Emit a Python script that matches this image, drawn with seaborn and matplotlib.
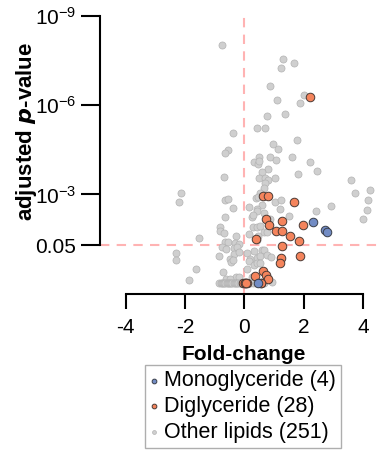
import numpy as np
import pandas as pd
import matplotlib
matplotlib.use("Agg")
import matplotlib.pyplot as plt
import seaborn as sns

# Fold-change and -log10(adjusted p) per lipid class
mg_fc = [2.32, 2.71, 2.78, 0.46]
mg_nlp = [2.09, 1.82, 1.73, 0.02]

dg_fc = [2.22, 0.62, 0.79, 1.68, 0.73, 1.28, 0.84, 1.99, 1.08, 1.28,
         1.54, 0.39, 1.83, 1.28, 1.25, 1.88, 1.19, 0.62, 0.73, 0.36,
         0.79, 0.57, -0.05, 0.01, 0.10, 0.04, 0.07, 0.55]
dg_nlp = [6.27, 2.96, 2.96, 2.75, 2.19, 2.12, 1.97, 1.97, 1.76, 1.77,
          1.62, 1.50, 1.44, 1.26, 0.88, 0.95, 0.69, 0.43, 0.31, 0.26,
          0.16, 0.02, 0.02, 0.02, 0.02, 0.02, 0.02, 0.02]

other_fc = [-0.75, 1.31, 1.67, 1.23, 0.87, 2.01, 1.10, 1.87, 0.76, 1.36,
            0.43, 0.69, -0.39, 1.79, 0.98, 1.14, -0.56, -0.65, 0.51, 0.88,
            1.08, 1.62, 0.32, 0.47, 0.51, 2.21, 0.79, 0.60, 2.45, -0.67,
            0.49, 0.71, 0.81, 1.05, 1.81, 3.60, 0.71, 0.66, 4.25, 3.72,
            -2.15, 0.54, -2.21, -0.65, -0.56, 0.38, 0.45, 1.03, 1.24, 4.18,
            0.61, -0.38, 0.17, 0.42, 0.44, 1.20, 2.43, 2.92, 4.15, 0.67,
            -0.64, 0.25, 0.29, 1.52, 0.88, 4.01, -0.83, -0.82, -0.69, 0.28,
            0.42, 0.53, 0.67, 0.76, -0.28, 0.16, -1.52, -0.65, -0.54, -0.30,
            -0.17, 0.43, 0.46, -0.75, -0.62, -0.35, -0.25, 0.34, 0.59, 0.66,
            -2.31, -2.30, -0.86, -0.36, -0.17, 0.09, 0.43, 0.53, 0.76, -0.48,
            -0.44, -0.37, 0.91, 0.20, 0.17, 0.32, 0.42, 0.52, -1.62, 0.09,
            -0.71, -0.27, -0.19, -1.85, -0.61, -0.48, 0.26, 0.93,
            -0.84, -0.80, -0.76, -0.72, -0.68, -0.64, -0.60, -0.56, -0.52, -0.48,
            -0.44, -0.40, -0.36, -0.32, -0.28, -0.24, -0.20, -0.16, -0.12, -0.08,
            0.05, 0.12, 0.20, 0.30, 0.38, 0.50, 0.60, 0.65]
other_nlp = [8.01, 7.54, 7.41, 7.23, 6.65, 6.35, 6.18, 6.06, 5.63, 5.70,
             5.22, 5.24, 5.05, 4.82, 4.70, 4.53, 4.49, 4.38, 4.27, 4.25,
             4.17, 4.27, 4.09, 4.02, 4.13, 4.08, 3.85, 3.77, 3.78, 3.58,
             3.56, 3.56, 3.49, 3.55, 3.68, 3.48, 3.38, 3.23, 3.15, 3.06,
             3.05, 3.06, 2.75, 2.82, 2.85, 2.87, 2.91, 2.74, 2.82, 2.83,
             2.64, 2.56, 2.57, 2.51, 2.46, 2.52, 2.45, 2.60, 2.47, 2.38,
             2.23, 2.23, 2.30, 2.28, 2.18, 2.17, 1.90, 1.79, 1.72, 1.90,
             1.92, 1.94, 1.75, 1.74, 1.60, 1.67, 1.53, 1.42, 1.41, 1.37,
             1.33, 1.47, 1.61, 1.23, 1.16, 1.19, 1.25, 1.10, 1.13, 1.13,
             1.03, 0.79, 0.95, 1.00, 1.06, 1.05, 0.87, 0.95, 0.97, 0.84,
             0.73, 0.80, 0.89, 0.83, 0.77, 0.62, 0.69, 0.69, 0.50, 0.49,
             0.41, 0.24, 0.22, 0.13, 0.16, 0.17, 0.23, 0.06,
             0.02, 0.02, 0.02, 0.02, 0.02, 0.02, 0.02, 0.02, 0.02, 0.02,
             0.02, 0.02, 0.02, 0.02, 0.02, 0.02, 0.02, 0.02, 0.02, 0.02,
             0.02, 0.02, 0.02, 0.02, 0.02, 0.02, 0.02, 0.02]

class_labels = ["Monoglyceride (4)", "Diglyceride (28)", "Other lipids (251)"]
y_ticks = [-np.log10(0.05), 3, 6, 9]
y_ticklabels = ["0.05", r"$10^{-3}$", r"$10^{-6}$", r"$10^{-9}$"]
x_ticks = [-4, -2, 0, 2, 4]

sns.set_style("ticks")
plt.rcParams["font.family"] = ["Liberation Sans", "DejaVu Sans"]
plt.rcParams["mathtext.fontset"] = "custom"
plt.rcParams["mathtext.rm"] = "Liberation Sans"
plt.rcParams["mathtext.it"] = "Liberation Sans:italic"
plt.rcParams["mathtext.bf"] = "Liberation Sans:bold"
plt.rcParams["text.color"] = "black"
plt.rcParams["axes.labelcolor"] = "black"
plt.rcParams["xtick.color"] = "black"
plt.rcParams["ytick.color"] = "black"

W, H = 380, 454
fig = plt.figure(figsize=(W / 100, H / 100), dpi=100)
ax = fig.add_axes([100 / W, 160 / H, 280 / W, 278.3 / H])

other = pd.DataFrame({"fc": other_fc, "nlp": other_nlp})
dg = pd.DataFrame({"fc": dg_fc, "nlp": dg_nlp})
mg = pd.DataFrame({"fc": mg_fc, "nlp": mg_nlp})

thr = -np.log10(0.05)
ax.axhline(thr, color="#ffb3b3", lw=1.5, dashes=(4.5, 3.5), zorder=1)
ax.axvline(0, color="#ffb3b3", lw=1.5, dashes=(4.5, 3.5), zorder=1)

sns.scatterplot(data=other, x="fc", y="nlp", ax=ax, color="#cfcfcf",
                edgecolor="#b3b3b3", linewidth=0.5, s=26, zorder=2,
                label=class_labels[2])
sns.scatterplot(data=dg, x="fc", y="nlp", ax=ax, color="#f4845c",
                edgecolor="#4a3a35", linewidth=0.7, s=38, zorder=3,
                label=class_labels[1])
sns.scatterplot(data=mg, x="fc", y="nlp", ax=ax, color="#728cc4",
                edgecolor="#3a3f4a", linewidth=0.7, s=38, zorder=4,
                label=class_labels[0])

ax.set_xlim(-4.87, 4.58)
ax.set_ylim(-0.34, 9.0)
sns.despine(ax=ax)
ax.spines["left"].set_bounds(thr, 9)
ax.spines["bottom"].set_bounds(-4, 4)
for sp in ("left", "bottom"):
    ax.spines[sp].set_linewidth(1.5)
    ax.spines[sp].set_color("black")

ax.set_yticks(y_ticks)
ax.set_yticklabels(y_ticklabels)
ax.set_xticks(x_ticks)
ax.set_xticklabels([str(t) for t in x_ticks])
ax.tick_params(axis="y", length=14, width=1.5, pad=3, labelsize=15)
ax.tick_params(axis="x", length=11, width=1.5, pad=6, labelsize=15)

ax.set_xlabel("Fold-change", fontsize=15, fontweight="bold")
ax.xaxis.set_label_coords(0.514, -0.185)
ax.set_ylabel(r"adjusted $\mathbfit{p}$-value", fontsize=16, fontweight="bold")
ax.yaxis.set_label_coords(-0.218, 0.585)

handles, labels = ax.get_legend_handles_labels()
order = [labels.index(l) for l in class_labels]
leg = fig.legend([handles[i] for i in order], [labels[i] for i in order],
                 loc="upper center", bbox_to_anchor=(243 / W, 1 - 365 / H),
                 fontsize=15.5, frameon=True, fancybox=False, markerscale=0.55,
                 handlelength=0.35, handletextpad=0.3, labelspacing=0.22,
                 borderpad=0.25, borderaxespad=0)
leg.get_frame().set_edgecolor("#9a9a9a")
leg.get_frame().set_linewidth(1.0)
ax.get_legend().remove()

fig.savefig("out.png", dpi=100)
